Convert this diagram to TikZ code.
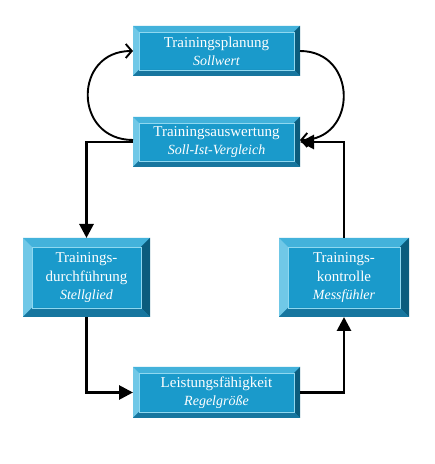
\documentclass[tikz,border=0pt]{standalone}
\usepackage{fontspec}
\setmainfont{Liberation Serif}
\usetikzlibrary{arrows.meta}
\definecolor{face}{HTML}{1A9ACB}
\definecolor{btop}{HTML}{43B2DB}
\definecolor{bleft}{HTML}{70C8E7}
\definecolor{bright}{HTML}{0B5C7D}
\definecolor{bbottom}{HTML}{17769F}
\definecolor{bline}{HTML}{8FD8F0}
\tikzset{
  bevel/.store in=\bv, bevel=6,
  bbox/.style={rectangle, inner sep=0pt, outer sep=0pt, text=white, align=center,
    font=\fontsize{15}{19}\selectfont, fill=face,
    path picture={
      \coordinate (nw) at (path picture bounding box.north west);
      \coordinate (ne) at (path picture bounding box.north east);
      \coordinate (sw) at (path picture bounding box.south west);
      \coordinate (se) at (path picture bounding box.south east);
      \fill[btop] (nw) -- (ne) -- ([xshift=-\bv pt,yshift=-\bv pt]ne) -- ([xshift=\bv pt,yshift=-\bv pt]nw) -- cycle;
      \fill[bleft] (nw) -- (sw) -- ([xshift=\bv pt,yshift=\bv pt]sw) -- ([xshift=\bv pt,yshift=-\bv pt]nw) -- cycle;
      \fill[bright] (ne) -- (se) -- ([xshift=-\bv pt,yshift=\bv pt]se) -- ([xshift=-\bv pt,yshift=-\bv pt]ne) -- cycle;
      \fill[bbottom] (sw) -- (se) -- ([xshift=-\bv pt,yshift=\bv pt]se) -- ([xshift=\bv pt,yshift=\bv pt]sw) -- cycle;
      \draw[bline, line width=0.8pt] ([xshift=\bv pt,yshift=\bv pt]sw) rectangle ([xshift=-\bv pt,yshift=-\bv pt]ne);
    }},
  elbow/.style={line width=2.8pt, -{Triangle[length=14pt,width=14pt]}},
  curve/.style={line width=1.9pt, -{Straight Barb[length=6pt,width=14pt]}}
}
\newcommand{\subtxt}[1]{{\fontsize{14}{19}\selectfont\itshape #1}}
\begin{document}
\begin{tikzpicture}[x=1pt,y=1pt]
\useasboundingbox (0,0) rectangle (435,464);
\node[bbox, bevel=6, minimum width=167pt, minimum height=50pt] (B1) at (216.5,413)
  {Trainingsplanung\\[-1pt]\subtxt{Sollwert}};
\node[bbox, bevel=6, minimum width=167pt, minimum height=50pt] (B2) at (216.5,322)
  {Trainingsauswertung\\[-1pt]\subtxt{Soll-Ist-Vergleich}};
\node[bbox, bevel=9, minimum width=127pt, minimum height=79pt] (B3) at (86.5,186.5)
  {Trainings-\\durchführung\\[-1pt]\subtxt{Stellglied}};
\node[bbox, bevel=9, minimum width=130pt, minimum height=79pt] (B4) at (344,186.5)
  {Trainings-\\kontrolle\\[-1pt]\subtxt{Messfühler}};
\node[bbox, bevel=6, minimum width=167pt, minimum height=51pt] (B5) at (216.5,71.5)
  {Leistungsfähigkeit\\[-1pt]\subtxt{Regelgröße}};
\draw[curve] ([yshift=2pt]B2.west) .. controls +(-60,0) and +(-60,0) .. (B1.west);
\draw[curve] (B1.east) .. controls +(58,0) and +(58,0) .. ([yshift=2pt]B2.east);
\draw[elbow] (B2.west) -| (B3.north);
\draw[elbow] (B3.south) |- (B5.west);
\draw[elbow] (B5.east) -| (B4.south);
\draw[elbow] (B4.north) |- (B2.east);
\end{tikzpicture}
\end{document}
